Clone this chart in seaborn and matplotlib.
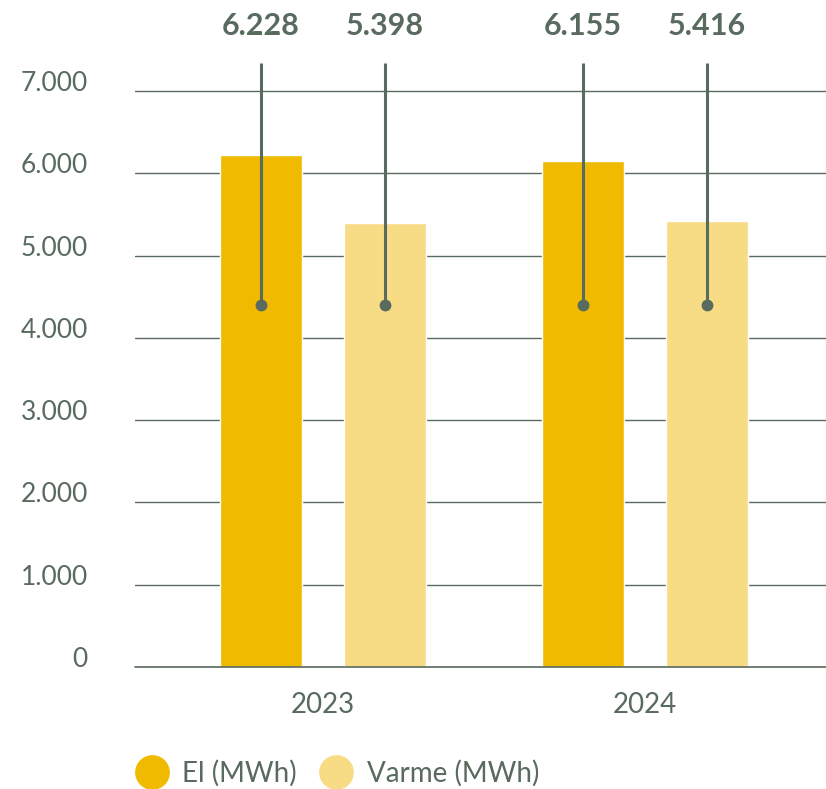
import numpy as np
import pandas as pd
import matplotlib
matplotlib.use("Agg")
import matplotlib.pyplot as plt
import seaborn as sns
from matplotlib.lines import Line2D

YEARS      = ["2023", "2024"]
SERIES     = ["El (MWh)", "Varme (MWh)"]
EL_VALUES  = [6228, 6155]
VARME_VALUES = [5398, 5416]
Y_TICKS    = [0, 1000, 2000, 3000, 4000, 5000, 6000, 7000]

COLORS     = ["#F0BA00", "#F8DC85"]
TEXT_COLOR = "#596A5E"
FONT       = ["Lato", "DejaVu Sans"]

def fmt(v):
    return f"{v:,.0f}".replace(",", ".")

df = pd.DataFrame({
    "year":   YEARS * 2,
    "series": [SERIES[0]] * 2 + [SERIES[1]] * 2,
    "value":  EL_VALUES + VARME_VALUES,
})

sns.set_theme(style="white")
plt.rcParams["font.family"] = FONT

fig = plt.figure(figsize=(8.26, 7.89), dpi=100)
ax = fig.add_axes([135 / 826, 1 - 667 / 789, 691 / 826, 667 / 789])

sns.barplot(data=df, x="year", y="value", hue="series", order=YEARS,
            hue_order=SERIES, palette=COLORS, width=0.77, gap=0.338,
            saturation=1, legend=False, ax=ax, zorder=3)

ax.set_xlim(-0.584, 1.562)
ax.set_ylim(0, 8106)
ax.set_yticks(Y_TICKS)
ax.set_yticklabels([fmt(v) for v in Y_TICKS])
ax.yaxis.grid(True, color=TEXT_COLOR, linewidth=1.0, zorder=0)
ax.axhline(0, color=TEXT_COLOR, linewidth=1.2, clip_on=False, zorder=4)
ax.set_axisbelow(True)
ax.tick_params(axis="y", length=0, pad=34, labelsize=19, labelcolor=TEXT_COLOR)
ax.tick_params(axis="x", length=0, pad=18, labelsize=20, labelcolor=TEXT_COLOR)
for lab in ax.get_yticklabels():
    lab.set_verticalalignment("baseline")
ax.set_xlabel("")
ax.set_ylabel("")
for s in ax.spines.values():
    s.set_visible(False)

# value callouts above each bar
bars = [p for p in ax.patches if p.get_height() > 0]
for p in bars:
    xc = p.get_x() + p.get_width() / 2
    ax.plot([xc, xc], [4400, 7340], color=TEXT_COLOR, linewidth=2.2,
            zorder=5, solid_capstyle="butt")
    ax.plot([xc], [4400], marker="o", markersize=7.5, color=TEXT_COLOR,
            zorder=6)
    ax.text(xc, 7790, fmt(p.get_height()), ha="center", va="center",
            fontsize=22, fontweight="bold", color=TEXT_COLOR,
            clip_on=False)

handles = [Line2D([0], [0], marker="o", linestyle="", markersize=24,
                  markerfacecolor=c, markeredgecolor=c) for c in COLORS]
fig.legend(handles, SERIES, loc="center left",
           bbox_to_anchor=(113 / 826, 1 - 773 / 789), ncol=2, frameon=False,
           fontsize=20, labelcolor=TEXT_COLOR, handletextpad=0.1,
           columnspacing=0.4, borderaxespad=0)

fig.savefig("out.png", dpi=100)
